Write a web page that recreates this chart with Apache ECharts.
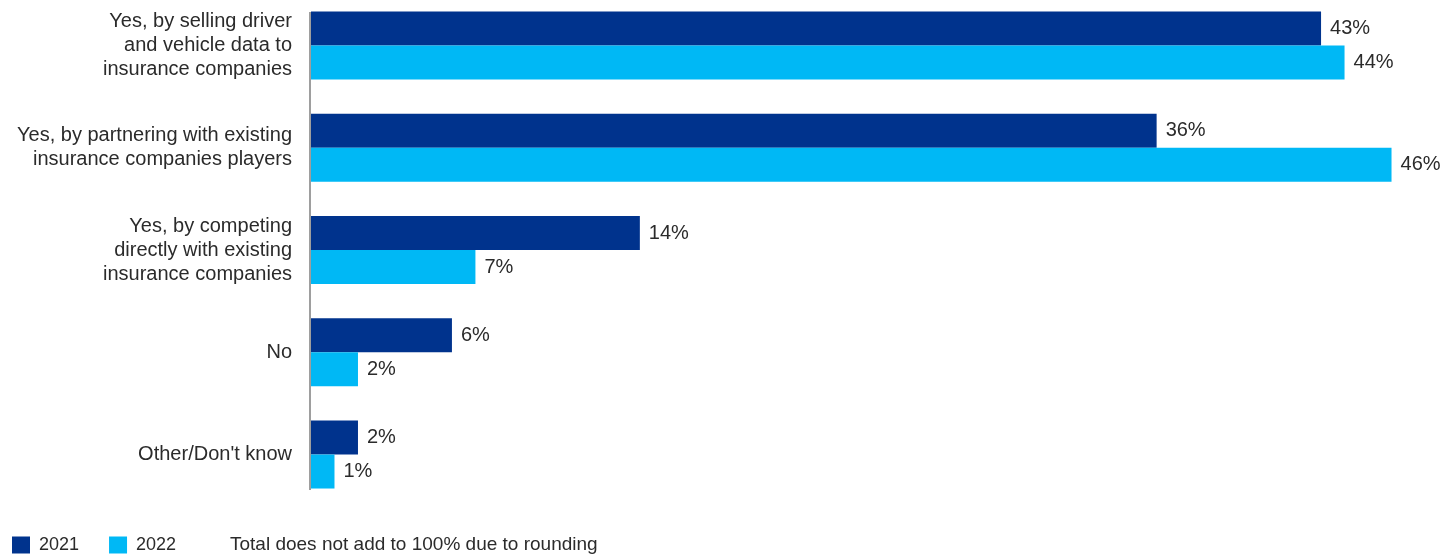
<!DOCTYPE html>
<html>
<head>
<meta charset="utf-8">
<script src="https://cdn.jsdelivr.net/npm/echarts@6/dist/echarts.min.js"></script>
<style>
  html, body { margin: 0; padding: 0; background: #fff; }
  #chart { width: 1456px; height: 557px; }
</style>
</head>
<body>
<div id="chart"></div>
<script>
// Survey answers (category axis, top to bottom)
const categories = [
  'Yes, by selling driver\nand vehicle data to\ninsurance companies',
  'Yes, by partnering with existing\ninsurance companies players',
  'Yes, by competing\ndirectly with existing\ninsurance companies',
  'No',
  "Other/Don't know"
];
const seriesNames = ['2021', '2022'];
const values2021 = [43, 36, 14, 6, 2];
const values2022 = [44, 46, 7, 2, 1];
const footnote = 'Total does not add to 100% due to rounding';

const FONT = '"Liberation Sans", Arial, sans-serif';
const TEXT = '#2b2b2b';
const DARK = '#00338D';
const LIGHT = '#00B8F5';

const chart = echarts.init(document.getElementById('chart'), null, { renderer: 'canvas' });

const barLabel = {
  show: true,
  position: 'right',
  distance: 9,
  formatter: '{c}%',
  color: TEXT,
  fontSize: 20,
  fontFamily: FONT
};

chart.setOption({
  animation: false,
  textStyle: { fontFamily: FONT },
  grid: {
    left: 311, top: -5.6, width: 1127.5, height: 511.25,
    containLabel: false,
    outerBoundsMode: 'none'
  },
  xAxis: {
    type: 'value', min: 0, max: 48,
    show: false
  },
  yAxis: {
    type: 'category',
    data: categories,
    inverse: true,
    axisLine: { show: false },
    axisTick: { show: false },
    axisLabel: {
      margin: 19,
      color: TEXT,
      fontSize: 20,
      lineHeight: 24,
      align: 'right',
      fontFamily: FONT
    }
  },
  legend: {
    left: 7, top: 531,
    itemWidth: 18, itemHeight: 17, itemGap: 30,
    icon: 'rect',
    textStyle: { color: TEXT, fontSize: 18, fontFamily: FONT, padding: [0, 0, 0, 4] },
    data: seriesNames
  },
  title: {
    text: footnote,
    left: 230, top: 535,
    padding: 0,
    textStyle: { color: TEXT, fontSize: 19, fontWeight: 'normal', fontFamily: FONT }
  },
  graphic: [{
    type: 'rect',
    shape: { x: 309, y: 12, width: 2, height: 478 },
    style: { fill: '#9e9e9e' },
    z: 10
  }],
  series: [
    {
      name: seriesNames[0], type: 'bar', data: values2021,
      barWidth: 34, barGap: '0%',
      itemStyle: { color: DARK },
      label: barLabel
    },
    {
      name: seriesNames[1], type: 'bar', data: values2022,
      barWidth: 34, barGap: '0%',
      itemStyle: { color: LIGHT },
      label: barLabel
    }
  ]
});
</script>
</body>
</html>
